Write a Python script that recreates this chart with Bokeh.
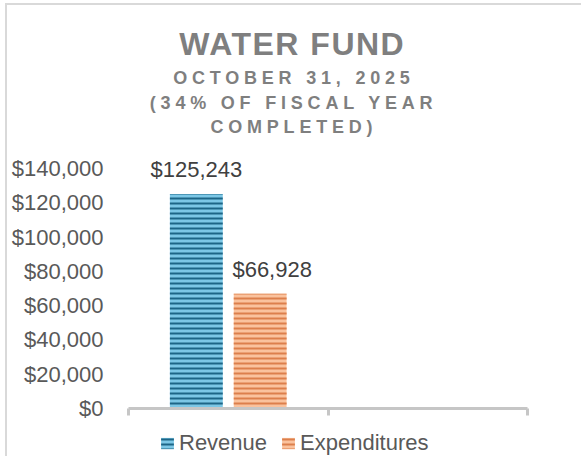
from bokeh.plotting import figure
from bokeh.models import (Range1d, FixedTicker, NumeralTickFormatter, Legend,
                          LegendItem, Label, ColumnDataSource)
from bokeh.layouts import column
from bokeh.transform import dodge
from bokeh.core.properties import value
from bokeh.embed import file_html
from bokeh.resources import INLINE

# ---- data ----
title_text = "WATER FUND"
subtitle_lines = ["OCTOBER 31, 2025", "(34% OF FISCAL YEAR", "COMPLETED)"]
categories = ["Water Fund", ""]          # two category slots, second is empty
series_names = ["Revenue", "Expenditures"]
revenue = [125243]
expenditures = [66928]
y_ticks = [0, 20000, 40000, 60000, 80000, 100000, 120000, 140000]

FONT = "Liberation Sans"
W = 576            # chart box width (box starts 5px from the left edge)
X0 = 5             # page x of the chart box
BL, BR = 123, 54   # left / right borders around the plot frame
TITLE_GRAY = "#7f7f7f"
BLUE = dict(fill_color="#7cc7e6", line_color=None, hatch_pattern="horizontal_line",
            hatch_color="#1d6587", hatch_weight=2, hatch_scale=5)
ORANGE = dict(fill_color="#fac29d", line_color=None, hatch_pattern="horizontal_line",
              hatch_color="#dc7f4c", hatch_weight=2, hatch_scale=5)


def base_fig(h, **kw):
    f = figure(width=W, height=h, toolbar_location=None, output_backend="svg",
               min_border_left=BL, min_border_right=BR,
               outline_line_color=None, border_fill_color=None,
               background_fill_color=None, **kw)
    f.grid.visible = False
    return f


def text_fig(h, spacing):
    # x range expressed in page pixels of the frame, y range in local pixels
    f = base_fig(h, x_axis_type=None, y_axis_type=None,
                 min_border_top=0, min_border_bottom=0,
                 x_range=Range1d(X0 + BL, X0 + W - BR), y_range=Range1d(h, 0))
    f.styles = {"letter-spacing": f"{spacing}px"}
    return f


def spaced_label(text, ypos, size, spacing):
    return Label(x=X0 + W / 2 - 2, y=ypos, text=text, text_align="center",
                 text_baseline="alphabetic",
                 x_offset=-(len(text) - 1) * spacing / 2,
                 text_font=FONT, text_font_size=size, text_font_style="bold",
                 text_color=TITLE_GRAY)


# ---- title ----
T_SP = 1.5
fh = text_fig(62, T_SP)
fh.add_layout(spaced_label(title_text, 40, "32px", T_SP))

# ---- subtitle ----
S_SP = 4.8
fs = text_fig(75, S_SP)
for line, ypos in zip(subtitle_lines, [12, 37, 61]):
    fs.add_layout(spaced_label(line, ypos, "18px", S_SP))

# ---- main chart ----
src = ColumnDataSource(dict(
    x=[i + 0.5 for i in range(len(revenue))],
    revenue=revenue,
    expenditures=expenditures,
    rev_label=[f"${v:,}" for v in revenue],
    exp_label=[f"${v:,}" for v in expenditures],
))

p = base_fig(288, x_range=Range1d(0, len(categories)),
             y_range=Range1d(0, 150000), min_border_top=11, min_border_bottom=20)

BW = 0.265
r1 = p.vbar(x=dodge("x", -0.16), top="revenue", width=BW, source=src, **BLUE)
r2 = p.vbar(x=dodge("x", 0.16), top="expenditures", width=BW, source=src, **ORANGE)

p.text(x=dodge("x", -0.16), y="revenue", text="rev_label", source=src,
       text_align="center", text_baseline="middle", y_offset=-24,
       text_font=value(FONT), text_font_size="22px", text_color="#404040")
p.text(x=dodge("x", 0.16), y="expenditures", text="exp_label", source=src,
       text_align="center", text_baseline="middle", y_offset=-24, x_offset=12,
       text_font=value(FONT), text_font_size="22px", text_color="#404040")

# y axis
p.yaxis.ticker = FixedTicker(ticks=y_ticks)
p.yaxis.formatter = NumeralTickFormatter(format="$0,0")
p.yaxis.axis_line_color = None
p.yaxis.major_tick_line_color = None
p.yaxis.minor_tick_line_color = None
p.yaxis.major_label_standoff = 19
p.yaxis.major_label_text_font = FONT
p.yaxis.major_label_text_font_size = "22px"
p.yaxis.major_label_text_color = "#595959"

# x axis (category boundaries, no labels)
p.xaxis.ticker = FixedTicker(ticks=list(range(len(categories) + 1)))
p.xaxis.major_label_overrides = {i: "" for i in range(len(categories) + 1)}
p.xaxis.major_label_text_font_size = "8px"
p.xaxis.axis_line_color = "#c6c6c6"
p.xaxis.axis_line_width = 3
p.xaxis.major_tick_line_color = "#c6c6c6"
p.xaxis.major_tick_line_width = 3
p.xaxis.major_tick_in = 0
p.xaxis.major_tick_out = 7
p.xaxis.minor_tick_line_color = None
p.xaxis.major_label_standoff = 0

# ---- legend strip (hidden proxy bars carry the series styles) ----
fl = base_fig(28, x_axis_type=None, y_axis_type=None,
              min_border_top=0, min_border_bottom=0,
              x_range=Range1d(0, len(categories)), y_range=Range1d(0, 150000))
g1 = fl.vbar(x=dodge("x", -0.16), top="revenue", width=BW, source=src,
             visible=False, **BLUE)
g2 = fl.vbar(x=dodge("x", 0.16), top="expenditures", width=BW, source=src,
             visible=False, **ORANGE)
legend = Legend(items=[LegendItem(label=series_names[0], renderers=[g1]),
                       LegendItem(label=series_names[1], renderers=[g2])],
                orientation="horizontal", location=(31, 0),
                label_text_font=FONT, label_text_font_size="22px",
                label_text_color="#595959", glyph_width=16, glyph_height=14,
                label_standoff=4, spacing=13, padding=0, margin=0,
                inactive_fill_alpha=0,
                border_line_color=None, background_fill_alpha=0)
fl.add_layout(legend)

layout = column(fh, fs, p, fl, styles={
    "margin-left": f"{X0}px", "margin-top": "3px",
    "box-shadow": "inset 2px 2px 0 0 #d9d9d9"})

open("out.html", "w").write(file_html(layout, INLINE))
